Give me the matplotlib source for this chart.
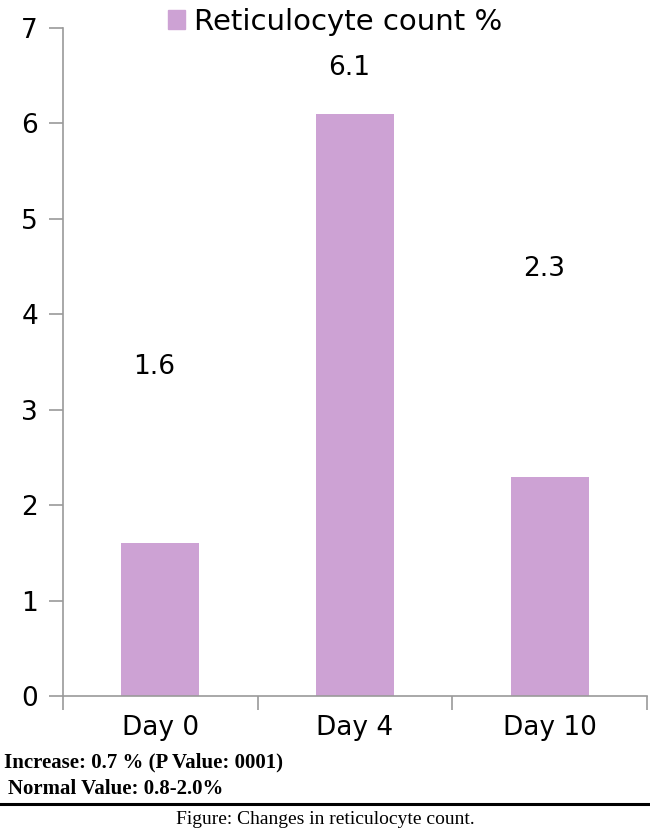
import matplotlib
matplotlib.use("Agg")
import matplotlib.pyplot as plt
from matplotlib.patches import Patch

# data
days = ["Day 0", "Day 4", "Day 10"]
retic_pct = [1.6, 6.1, 2.3]
label_y = [3.45, 6.58, 4.47]  # where the value labels sit (data units)
yticks = [0, 1, 2, 3, 4, 5, 6, 7]

BAR_COLOR = "#CDA2D4"
AXIS_GRAY = "#9A9A9A"

W, H = 650, 835
fig = plt.figure(figsize=(W / 100, H / 100), dpi=100)
ax = fig.add_axes([63 / W, (H - 696) / H, (647 - 63) / W, (696 - 28) / H])

x = list(range(len(days)))
ax.bar(x, retic_pct, width=0.4, color=BAR_COLOR, zorder=2)
for xi, v, ly in zip(x, retic_pct, label_y):
    ax.text(xi - 0.03, ly, f"{v}", ha="center", va="center", fontsize=19)

ax.set_xlim(-0.5, len(days) - 0.5)
ax.set_ylim(0, 7)
ax.set_yticks(yticks)
ax.set_yticklabels([str(t) for t in yticks], fontsize=19)

# category labels centred, ticks on the boundaries
ax.set_xticks(x)
ax.set_xticklabels(days, fontsize=19)
ax.tick_params(axis="x", which="major", length=0, pad=14)
ax.set_xticks([i - 0.5 for i in range(len(days) + 1)], minor=True)
ax.tick_params(axis="x", which="minor", length=10, color=AXIS_GRAY, width=1.2)
ax.tick_params(axis="y", length=10, color=AXIS_GRAY, width=1.2, pad=8)

for side in ("top", "right"):
    ax.spines[side].set_visible(False)
for side in ("left", "bottom"):
    ax.spines[side].set_color(AXIS_GRAY)
    ax.spines[side].set_linewidth(1.2)

leg = fig.legend(handles=[Patch(color=BAR_COLOR, label="Reticulocyte count %")],
                 loc="center", bbox_to_anchor=(335 / W, (H - 22) / H),
                 frameon=False, fontsize=21, handlelength=0.6, handleheight=0.6,
                 handletextpad=0.3, borderaxespad=0)

# notes under the chart
fig.text(4 / W, (H - 762) / H, "Increase: 0.7 % (P Value: 0001)",
         family="Liberation Serif", weight="bold", fontsize=15, va="center")
fig.text(8 / W, (H - 789) / H, "Normal Value: 0.8-2.0%",
         family="Liberation Serif", weight="bold", fontsize=15, va="center")
fig.add_artist(plt.Line2D([0, 1], [(H - 804) / H] * 2, color="black", lw=2.2))
fig.text(0.5, (H - 820) / H, "Figure: Changes in reticulocyte count.",
         family="Liberation Serif", fontsize=14, ha="center", va="center")

fig.savefig("out.png", dpi=100)
